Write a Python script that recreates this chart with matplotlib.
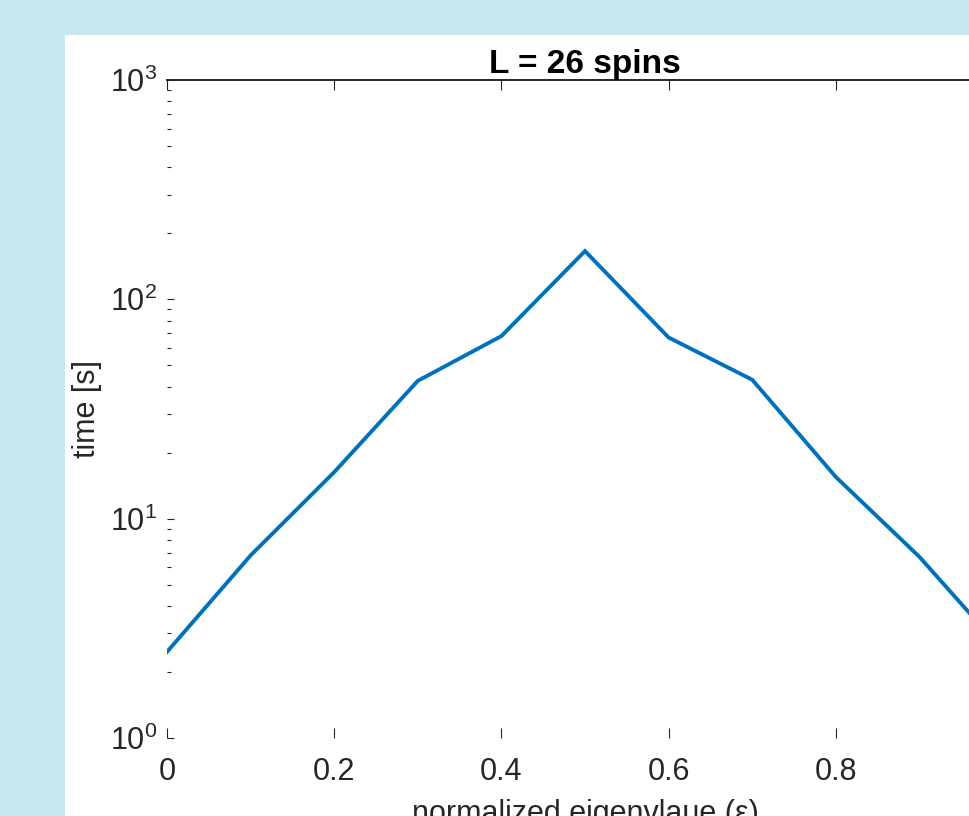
import matplotlib.pyplot as plt
from matplotlib.patches import Rectangle
from matplotlib.ticker import LogLocator, NullFormatter

# values
eps = [0.0, 0.1, 0.2, 0.3, 0.4, 0.5, 0.6, 0.7, 0.8, 0.9, 1.0]
time_s = [2.47, 6.8, 16.3, 42.5, 68.0, 166.0, 67.0, 43.0, 15.5, 6.7, 2.5]
xticks = [0, 0.2, 0.4, 0.6, 0.8, 1.0]
xticklabels = ["0", "0.2", "0.4", "0.6", "0.8", "1"]

plt.rcParams["font.family"] = ["Liberation Sans", "DejaVu Sans"]
plt.rcParams["mathtext.fontset"] = "custom"
plt.rcParams["mathtext.rm"] = "Liberation Sans"
plt.rcParams["mathtext.it"] = "Liberation Sans:italic"

TXT = "#262626"
FS = 22

fig = plt.figure(figsize=(9.70, 8.16), dpi=100)
fig.patch.set_facecolor("#c6e6f0")
# white figure panel, partly cropped at right/bottom
panel = Rectangle((65 / 970, 0), 1.0, 1 - 35 / 816, transform=fig.transFigure,
                  facecolor="white", edgecolor="none", zorder=-10)
fig.add_artist(panel)

ax = fig.add_axes([167 / 970, 1 - 738 / 816, (1003 - 167) / 970, (738 - 80) / 816])
ax.set_facecolor("white")
ax.plot(eps, time_s, color="#0072BD", lw=2.8, solid_joinstyle="miter")

ax.set_yscale("log")
ax.set_ylim(1, 1000)
ax.set_xlim(0, 1)
ax.set_xticks(xticks)
ax.set_xticklabels(xticklabels)
ax.yaxis.set_major_locator(LogLocator(base=10, numticks=10))
ax.yaxis.set_minor_locator(LogLocator(base=10, subs=range(2, 10), numticks=20))
ax.yaxis.set_minor_formatter(NullFormatter())

ax.tick_params(axis="both", which="both", direction="in", colors=TXT,
               labelsize=FS, width=0.8)
ax.tick_params(axis="x", which="major", length=7, top=True, pad=14)
ax.tick_params(axis="y", which="major", length=5, pad=7)
ax.tick_params(axis="y", which="minor", length=3)
ax.tick_params(axis="x", which="minor", bottom=False, top=False)

for side in ["left", "bottom"]:
    ax.spines[side].set_visible(False)
ax.spines["top"].set_color(TXT)
ax.spines["top"].set_linewidth(1.4)
ax.spines["right"].set_color(TXT)

ax.set_title("L = 26 spins", fontsize=24, fontweight="bold", color="black", pad=5)
ax.set_ylabel("time [s]", fontsize=FS, color=TXT, labelpad=6)
ax.set_xlabel("normalized eigenvlaue (\u03b5)", fontsize=FS, color=TXT, labelpad=8)

fig.savefig("out.png", dpi=100, facecolor=fig.get_facecolor())
